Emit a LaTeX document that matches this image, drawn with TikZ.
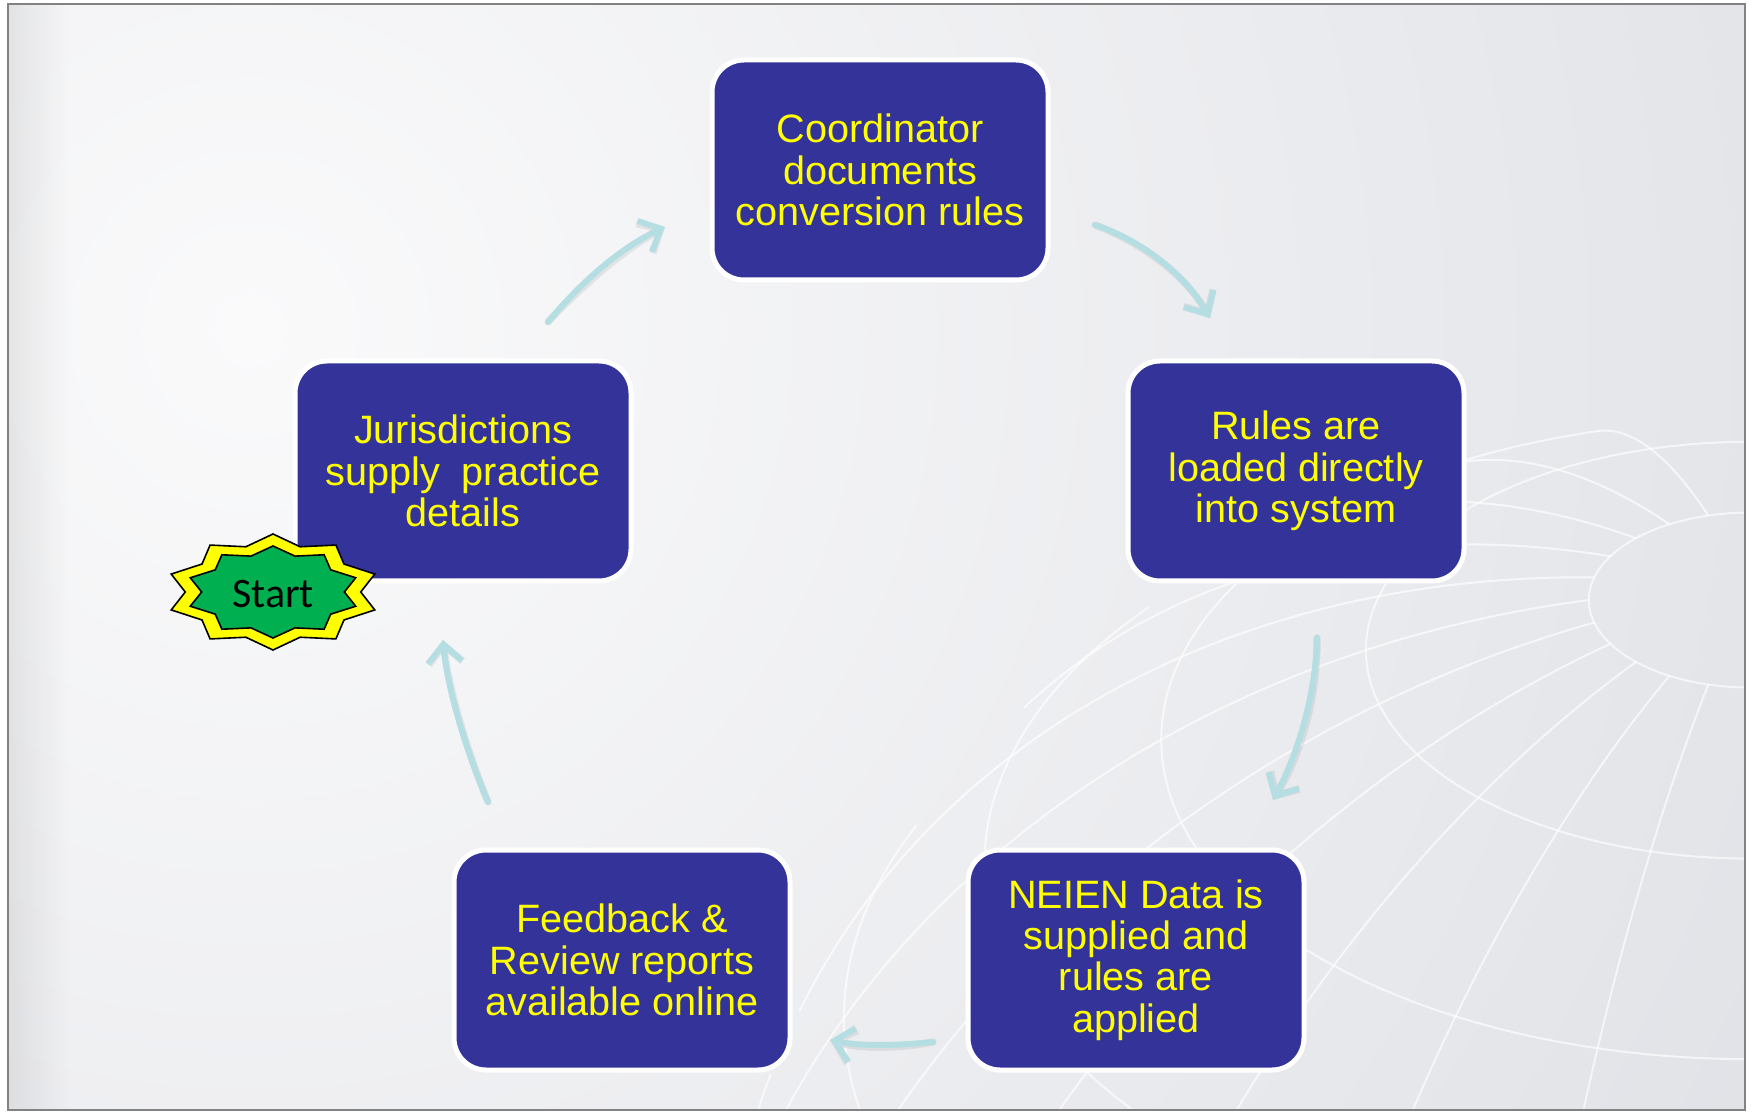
\documentclass[tikz,border=0pt]{standalone}
\usepackage{fontspec}
\setmainfont{Liberation Sans}
\newfontfamily\startfont{Carlito}
\usetikzlibrary{arrows.meta,fadings}
\definecolor{boxblue}{RGB}{51,51,153}
\definecolor{arrowc}{RGB}{180,222,225}
\definecolor{bgin}{RGB}{250,250,251}
\definecolor{bgout}{RGB}{200,203,211}
\definecolor{frameg}{RGB}{130,130,130}
\definecolor{stargreen}{RGB}{0,176,80}
\definecolor{staryellow}{RGB}{255,255,0}
\begin{document}
\begin{tikzpicture}[x=0.5pt,y=-0.5pt,
  stepbox/.style={draw=white, line width=2.5pt, fill=boxblue, rounded corners=16pt,
    minimum width=168pt, minimum height=110pt, text=staryellow, align=center,
    font=\fontsize{19.8}{20.7}\selectfont, inner sep=0pt},
  flow/.style={draw=arrowc, line width=3pt, line cap=round, -{Straight Barb[length=9pt,width=17pt]}},
  flowshadow/.style={draw=black, opacity=0.07, line width=3.6pt, line cap=round, -{Straight Barb[length=9pt,width=17pt]}},
  globe/.style={draw=white, line width=1pt, opacity=0.65},
  starline/.style={draw=black, line width=0.8pt, line join=miter}
]
\useasboundingbox (0,0) rectangle (1753,1112);
\fill[white] (0,0) rectangle (1753,1112);

% background panel
\begin{scope}
  \clip (8,4) rectangle (1745,1110);
  \shade[inner color=bgin, outer color=bgout] (250,330) circle (1700pt);
  \fill[black, opacity=0.07, path fading=east] (8,4) rectangle (70,1110);
  % globe
  \def\Cx{1750}\def\Cy{1480}\def\R{1060}
  \def\sth{0.84}\def\cth{0.5426}\def\tth{1.548}
  \foreach \p in {81.25,68.75,56.25,43.75,31.25,18.75} {
    \pgfmathsetmacro\sz{max(-tan(\p)*\cth/\sth,-1)}
    \pgfmathsetmacro\lo{asin(\sz)}
    \pgfmathsetmacro\hi{180-\lo}
    \draw[globe] plot[domain=\lo:\hi, samples=150, variable=\t]
      ({\Cx + \R*cos(\p)*cos(\t)}, {\Cy - \R*(sin(\p)*\sth - cos(\p)*sin(\t)*\cth)});
  }
  \foreach \l in {0,15,...,345} {
    \pgfmathsetmacro\lo{atan(-\tth*sin(\l))}
    \draw[globe] plot[domain=\lo:81.25, samples=80, variable=\t]
      ({\Cx + \R*cos(\t)*cos(\l)}, {\Cy - \R*(sin(\t)*\sth - cos(\t)*sin(\l)*\cth)});
  }
\end{scope}
\draw[frameg, line width=1.2pt] (8,4) rectangle (1745,1110);

% boxes
\node[stepbox] (coord) at (880,170) {Coordinator\\documents\\conversion rules};
\node[stepbox] (rules) at (1296,471) {Rules are\\loaded directly\\into system};
\node[stepbox] (juris) at (463,471) {Jurisdictions\\supply\ \ practice\\details};
\node[stepbox] (feed) at (622,960) {Feedback \&\\Review reports\\available online};
\node[stepbox] (neien) at (1136,960) {NEIEN Data is\\supplied and\\rules are\\applied};

% connector end points
\coordinate (a1s) at (548,322); \coordinate (a1e) at (665,227);
\coordinate (a2s) at (1095,225); \coordinate (a2e) at (1210,318);
\coordinate (a3s) at (1317,638); \coordinate (a3e) at (1273,800);
\coordinate (a4s) at (933,1042); \coordinate (a4e) at (830,1040);
\coordinate (a5s) at (488,802); \coordinate (a5e) at (443,640);

\begin{scope}[shift={(2,3)}]
\draw[flowshadow] (a1s) .. controls (583,280) and (622,247) .. (a1e);
\draw[flowshadow] (a2s) .. controls (1140,240) and (1183,272) .. (a2e);
\draw[flowshadow] (a3s) .. controls (1316,690) and (1300,750) .. (a3e);
\draw[flowshadow] (a4s) .. controls (895,1046) and (857,1046) .. (a4e);
\draw[flowshadow] (a5s) .. controls (470,760) and (448,695) .. (a5e);
\end{scope}
\draw[flow] (a1s) .. controls (583,280) and (622,247) .. (a1e);
\draw[flow] (a2s) .. controls (1140,240) and (1183,272) .. (a2e);
\draw[flow] (a3s) .. controls (1316,690) and (1300,750) .. (a3e);
\draw[flow] (a4s) .. controls (895,1046) and (857,1046) .. (a4e);
\draw[flow] (a5s) .. controls (470,760) and (448,695) .. (a5e);

% start seal
\draw[starline, fill=staryellow] plot[samples at={0,...,19}, variable=\i]
  ({273 + 107*(1-0.18*mod(\i,2))*cos(90+18*\i)}, {592 - 58*(1-0.18*mod(\i,2))*sin(90+18*\i)}) -- cycle;
\draw[starline, fill=stargreen] plot[samples at={0,...,19}, variable=\i]
  ({273 + 87*(1-0.18*mod(\i,2))*cos(90+18*\i)}, {592 - 46*(1-0.18*mod(\i,2))*sin(90+18*\i)}) -- cycle;
\node[font=\startfont\fontsize{21}{24}\selectfont, text=black, inner sep=0pt] (start) at (273,594) {Start};
\end{tikzpicture}
\end{document}
